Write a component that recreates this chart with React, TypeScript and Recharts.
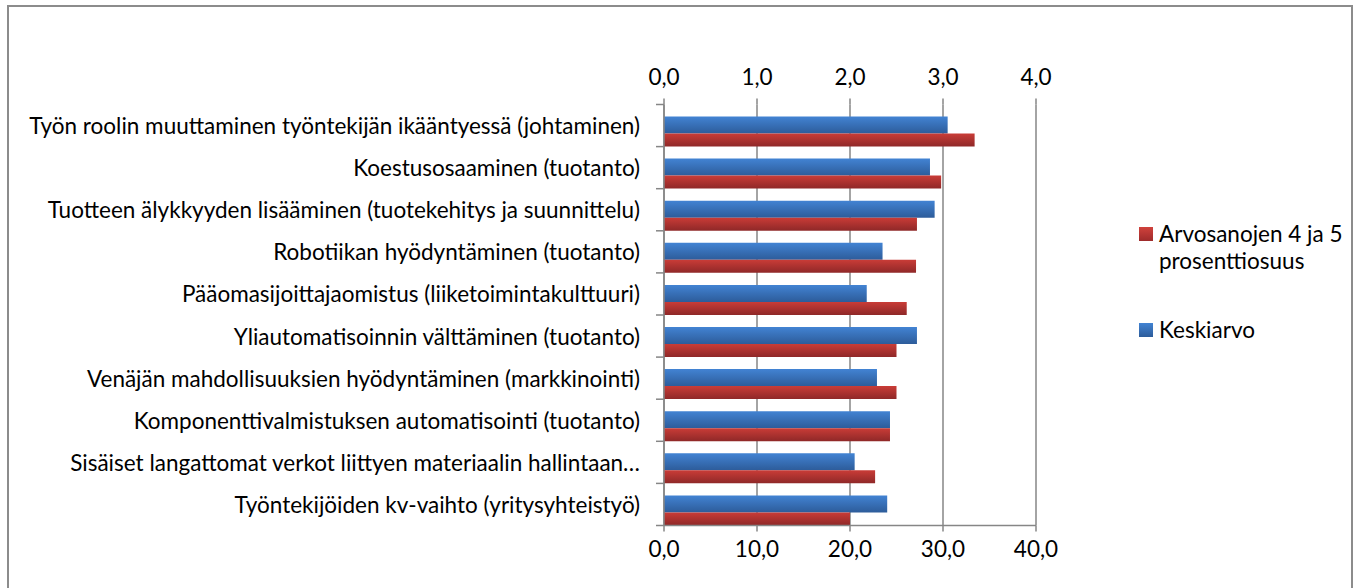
import { BarChart, Bar, XAxis, YAxis, CartesianGrid, Rectangle } from "recharts"

const kategoriat = [
  "Työn roolin muuttaminen työntekijän ikääntyessä (johtaminen)",
  "Koestusosaaminen (tuotanto)",
  "Tuotteen älykkyyden lisääminen (tuotekehitys ja suunnittelu)",
  "Robotiikan hyödyntäminen (tuotanto)",
  "Pääomasijoittajaomistus (liiketoimintakulttuuri)",
  "Yliautomatisoinnin välttäminen (tuotanto)",
  "Venäjän mahdollisuuksien hyödyntäminen (markkinointi)",
  "Komponenttivalmistuksen automatisointi (tuotanto)",
  "Sisäiset langattomat verkot liittyen materiaalin hallintaan…",
  "Työntekijöiden kv-vaihto (yritysyhteistyö)",
]
const keskiarvo = [3.05, 2.86, 2.91, 2.35, 2.18, 2.72, 2.29, 2.43, 2.05, 2.4]
const osuus = [33.4, 29.8, 27.2, 27.1, 26.1, 25.0, 25.0, 24.3, 22.7, 20.0]
const ylaTicks = [0, 1, 2, 3, 4]
const alaTicks = [0, 10, 20, 30, 40]

const data = kategoriat.map((nimi, i) => ({ nimi, keskiarvo: keskiarvo[i], osuus: osuus[i] }))

const FONT = "Lato, 'Noto Sans', sans-serif"
const FS = 22.5
const AXIS_X = 655
const PLOT_TOP = 97.5
const PLOT_BOTTOM = 518.5
const BAND = (PLOT_BOTTOM - PLOT_TOP) / kategoriat.length
const fmt = (v: number) => v.toFixed(1).replace(".", ",")

const KategoriaTick = (props: any) => {
  const { y, payload, index } = props
  return (
    <g>
      <text x={AXIS_X - 24} y={y} textAnchor="end" dominantBaseline="central" fontSize={FS} fontFamily={FONT} fill="#000">
        {payload.value}
      </text>
      <line x1={AXIS_X - 8} x2={AXIS_X} y1={y + BAND / 2} y2={y + BAND / 2} stroke="#868686" strokeWidth={1.5} />
      {index === 0 && (
        <line x1={AXIS_X - 8} x2={AXIS_X} y1={y - BAND / 2} y2={y - BAND / 2} stroke="#868686" strokeWidth={1.5} />
      )}
    </g>
  )
}

const Selite = () => (
  <div style={{ position: "absolute", left: 1130, top: 213, fontFamily: FONT, fontSize: FS, lineHeight: "27px", color: "#000", whiteSpace: "nowrap" }}>
    <div style={{ display: "flex", alignItems: "flex-start", marginBottom: 42 }}>
      <span style={{ width: 14, height: 14, marginTop: 7, marginRight: 6, background: "linear-gradient(#d0423c, #9e2b2b)", flex: "none" }} />
      <span>Arvosanojen 4 ja 5<br />prosenttiosuus</span>
    </div>
    <div style={{ display: "flex", alignItems: "flex-start" }}>
      <span style={{ width: 14, height: 14, marginTop: 7, marginRight: 6, background: "linear-gradient(#4283d3, #2d5c9a)", flex: "none" }} />
      <span>Keskiarvo</span>
    </div>
  </div>
)

const siirto = (p: any) => <Rectangle {...p} y={p.y + 6} />

export default function App() {
  return (
    <div style={{ position: "absolute", left: 7, top: 5, width: 1342, height: 581, border: "2px solid #8c8c8c", borderBottom: "none", background: "#fff" }}>
      <BarChart
        width={1342}
        height={581}
        data={data}
        layout="vertical"
        margin={{ top: 59.5, right: 315, bottom: 23, left: 0 }}
        barGap={0}
        barCategoryGap={6}
      >
        <defs>
          <linearGradient id="sininen" x1="0" y1="0" x2="0" y2="1">
            <stop offset="0%" stopColor="#4283d3" />
            <stop offset="100%" stopColor="#2d5c9a" />
          </linearGradient>
          <linearGradient id="punainen" x1="0" y1="0" x2="0" y2="1">
            <stop offset="0%" stopColor="#c93c37" />
            <stop offset="100%" stopColor="#8f2828" />
          </linearGradient>
        </defs>
        <CartesianGrid horizontal={false} xAxisId="ala" stroke="#868686" strokeWidth={1.5} />
        <XAxis
          xAxisId="yla"
          orientation="top"
          type="number"
          domain={[0, 4]}
          ticks={ylaTicks}
          tickFormatter={fmt}
          axisLine={false}
          tickLine={{ stroke: "#868686", strokeWidth: 1.5 }}
          tickSize={6}
          tickMargin={14}
          height={38}
          tick={{ fontSize: FS, fontFamily: FONT, fill: "#000" }}
        />
        <XAxis
          xAxisId="ala"
          orientation="bottom"
          type="number"
          domain={[0, 40]}
          ticks={alaTicks}
          tickFormatter={fmt}
          axisLine={{ stroke: "#868686", strokeWidth: 1.5 }}
          tickLine={{ stroke: "#868686", strokeWidth: 1.5 }}
          tickSize={6}
          tickMargin={10}
          height={39.5}
          tick={{ fontSize: FS, fontFamily: FONT, fill: "#000" }}
        />
        <YAxis
          type="category"
          dataKey="nimi"
          width={655}
          axisLine={{ stroke: "#868686", strokeWidth: 1.5 }}
          tickLine={false}
          tick={<KategoriaTick />}
          interval={0}
        />
        <Bar dataKey="keskiarvo" name="Keskiarvo" xAxisId="yla" fill="url(#sininen)" barSize={17} shape={siirto} isAnimationActive={false} />
        <Bar dataKey="osuus" name="Arvosanojen 4 ja 5 prosenttiosuus" xAxisId="ala" fill="url(#punainen)" barSize={13} shape={siirto} isAnimationActive={false} />
      </BarChart>
      <Selite />
    </div>
  )
}
